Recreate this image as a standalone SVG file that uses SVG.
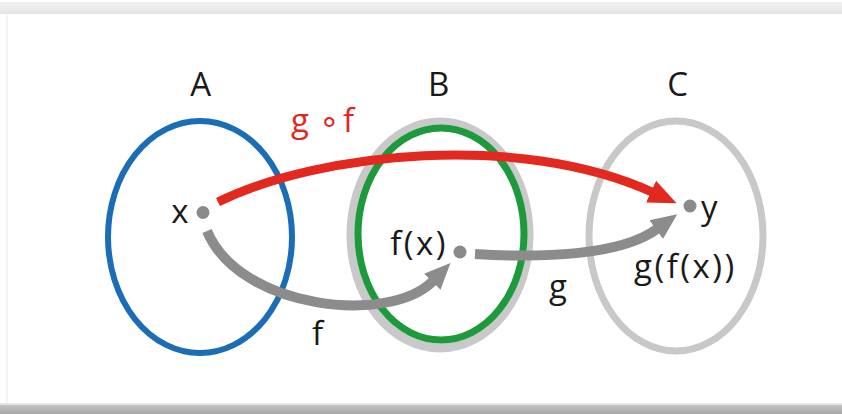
<svg xmlns="http://www.w3.org/2000/svg" width="842" height="414" viewBox="0 0 842 414">
<style>
.lbl{font-family:"Open Sans","Liberation Sans",sans-serif;font-size:33px;fill:#1a1a1a;letter-spacing:2.5px}
.red{fill:#e0281f}
.dot{fill:#8a8a8a}
.arr-red{fill:none;stroke:#e2281f;stroke-width:9}
.arr-gray{fill:none;stroke:#8c8c8c;stroke-width:10}
</style>
<defs>
<linearGradient id="topg" x1="0" y1="0" x2="0" y2="1"><stop offset="0" stop-color="#f2f2f2"/><stop offset="1" stop-color="#e4e4e4"/></linearGradient>
<linearGradient id="botg" x1="0" y1="0" x2="0" y2="1"><stop offset="0" stop-color="#c4c4c4"/><stop offset="1" stop-color="#a6a6a6"/></linearGradient>
<marker id="hr" markerUnits="userSpaceOnUse" markerWidth="30" markerHeight="28" viewBox="0 -14 30 28" refX="1" refY="0" orient="auto"><path d="M0,-12 L28,0 L0,12 z" fill="#e2281f"/></marker>
<marker id="hg" markerUnits="userSpaceOnUse" markerWidth="30" markerHeight="28" viewBox="0 -14 30 28" refX="1" refY="0" orient="auto"><path d="M0,-11.5 L26,0 L0,11.5 z" fill="#8c8c8c"/></marker>
</defs>
<rect width="842" height="414" fill="#ffffff"/>
<rect x="0" y="2" width="842" height="12" fill="url(#topg)"/>
<line x1="7" y1="14" x2="7" y2="404" stroke="#f0f0f0" stroke-width="1.5"/>
<rect x="0" y="403" width="842" height="2" fill="#e6e6e6"/>
<rect x="0" y="405" width="842" height="9" fill="url(#botg)"/>

<g id="setA">
<ellipse cx="200" cy="237" rx="92" ry="116" fill="none" stroke="#1b6db5" stroke-width="6"/>
<text class="lbl" x="202" y="96" text-anchor="middle">A</text>
</g>
<g id="setB">
<ellipse cx="440" cy="235" rx="89" ry="113" fill="none" stroke="#c9c9c9" stroke-width="9"/>
<ellipse cx="441" cy="234" rx="83" ry="106" fill="none" stroke="#1d9a3c" stroke-width="7"/>
<text class="lbl" x="440" y="96" text-anchor="middle">B</text>
</g>
<g id="setC">
<ellipse cx="676" cy="236" rx="87" ry="115" fill="none" stroke="#c8c8c8" stroke-width="7"/>
<text class="lbl" x="679" y="96" text-anchor="middle">C</text>
</g>

<g id="connectors">
<path class="arr-red" d="M218,202 C320,152 520,132 652,192" marker-end="url(#hr)"/>
<path class="arr-gray" d="M207,231 C240,310 390,325 433,281" marker-end="url(#hg)"/>
<path class="arr-gray" d="M475,254 C540,258 620,256 657,229" marker-end="url(#hg)"/>
</g>

<g id="nodeX">
<circle class="dot" cx="203" cy="212.5" r="6.5"/>
<text class="lbl" x="191" y="223" text-anchor="end">x</text>
</g>
<g id="nodeFx">
<circle class="dot" cx="460" cy="252" r="6.5"/>
<text class="lbl" x="448" y="255" text-anchor="end">f(x)</text>
</g>
<g id="nodeY">
<circle class="dot" cx="690" cy="206" r="6.5"/>
<text class="lbl" x="701" y="219">y</text>
<text class="lbl" x="634" y="278">g(f(x))</text>
</g>

<g id="labels">
<text class="lbl red" y="132"><tspan x="291">g</tspan><tspan x="319">∘</tspan><tspan x="343">f</tspan></text>
<text class="lbl" x="312" y="345">f</text>
<text class="lbl" x="549" y="298">g</text>
</g>
</svg>
